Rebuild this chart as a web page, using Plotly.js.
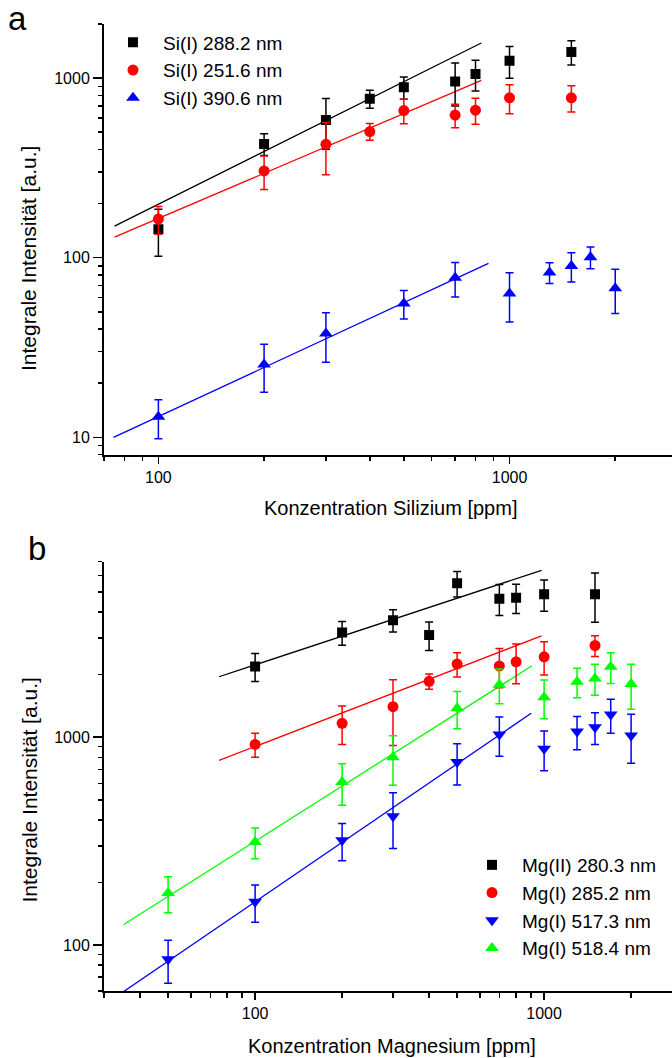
<!DOCTYPE html>
<html><head><meta charset="utf-8">
<script src="https://cdn.plot.ly/plotly-3.0.1.min.js"></script>
<style>html,body{margin:0;padding:0;background:#fff;overflow:hidden}</style>
</head><body><div id="chart" style="width:672px;height:1058px"></div>
<script>
// ---------- Panel a: Silicon ----------
const siX = [100, 200, 300, 400, 500, 700, 800, 1000, 1500];
const si288 = [144, 430, 585, 767, 888, 957, 1053, 1249, 1397];
const si288Err = [42, 59, 184, 88, 125, 258, 205, 250, 215];
const si251 = [164, 304, 428, 504, 659, 622, 663, 776, 776];
const si251Err = [29, 64, 138, 54, 102, 93, 110, 143, 129];
const siX390 = [100, 200, 300, 500, 700, 1000, 1300, 1500, 1700, 2000];
const si390 = [13.0, 25.4, 37.8, 55.6, 77.3, 63.2, 82.8, 89.8, 100.7, 67.5];
const si390Err = [3.2, 7.6, 11.6, 10, 16.8, 19.3, 10.9, 16.7, 14, 18.6];
// fit lines (end points)
const fitSiX = [75, 831];
const fit288 = [150, 1567];
const fit251 = [130, 970];
const fitSiX390 = [74.5, 871];
const fit390 = [10, 92.9];

// ---------- Panel b: Magnesium ----------
const mgX = [100, 200, 300, 400, 500, 700, 800, 1000, 1500];
const mg280 = [2193, 3192, 3661, 3102, 5508, 4645, 4697, 4877, 4877];
const mg280Err = [340, 420, 450, 490, 780, 785, 760, 835, 1300];
const mg285 = [923, 1167, 1403, 1858, 2250, 2203, 2308, 2439, 2765];
const mg285Err = [122, 245, 490, 155, 300, 470, 500, 445, 315];
const mgX5 = [50, 100, 200, 300, 500, 700, 1000, 1300, 1500, 1700, 2000];
const mg517 = [85.3, 161.5, 319, 416, 759, 1030, 880, 1065, 1117, 1285, 1019];
const mg517Err = [20, 33, 65, 125, 170, 220, 190, 195, 195, 240, 270];
const mg518 = [178, 313, 608, 802, 1378, 1791, 1556, 1850, 1919, 2183, 1804];
const mg518Err = [35, 53, 137, 215, 280, 340, 330, 300, 325, 370, 440];
const fitMgX = [75, 980];
const fit280 = [1955, 6364];
const fit285 = [773, 3077];
const fitMgX518 = [35, 907];
const fit518 = [125, 2208];
const fitMgX517 = [35, 902];
const fit517 = [59.5, 1304];

// tick labels
const siXTicks = [100, 1000];
const siYTicks = [10, 100, 1000];
const mgXTicks = [100, 1000];
const mgYTicks = [100, 1000];

const W = 672, H = 1058;
const FONT = 'Liberation Sans, Arial, Helvetica, sans-serif';
const px = v => v / W;
const py = v => (H - v) / H;

const BLACK = '#000000', RED = '#ff0000', BLUE = '#0000ff', GREEN = '#00ff00';

function fit(x, y, color, xa, ya) {
  return {x: x, y: y, type: 'scatter', mode: 'lines', showlegend: false,
    line: {color: color, width: 1.3}, xaxis: xa, yaxis: ya, hoverinfo: 'skip'};
}
function pts(x, y, err, name, color, symbol, size, xa, ya, lg) {
  return {x: x, y: y, type: 'scatter', mode: 'markers', name: name,
    marker: {symbol: symbol, size: size, color: color, line: {width: 0}},
    error_y: {type: 'data', array: err, visible: true, color: color, thickness: 1.5, width: 4},
    xaxis: xa, yaxis: ya, legend: lg};
}

const traces = [
  fit(fitSiX, fit288, BLACK, 'x', 'y'),
  fit(fitSiX, fit251, RED, 'x', 'y'),
  fit(fitSiX390, fit390, BLUE, 'x', 'y'),
  pts(siX, si288, si288Err, 'Si(I) 288.2 nm', BLACK, 'square', 10, 'x', 'y', 'legend'),
  pts(siX, si251, si251Err, 'Si(I) 251.6 nm', RED, 'circle', 11, 'x', 'y', 'legend'),
  pts(siX390, si390, si390Err, 'Si(I) 390.6 nm', BLUE, 'triangle-up', 12, 'x', 'y', 'legend'),

  fit(fitMgX, fit280, BLACK, 'x2', 'y2'),
  fit(fitMgX, fit285, RED, 'x2', 'y2'),
  fit(fitMgX518, fit518, GREEN, 'x2', 'y2'),
  fit(fitMgX517, fit517, BLUE, 'x2', 'y2'),
  pts(mgX, mg280, mg280Err, 'Mg(II) 280.3 nm', BLACK, 'square', 10, 'x2', 'y2', 'legend2'),
  pts(mgX, mg285, mg285Err, 'Mg(I) 285.2 nm', RED, 'circle', 11, 'x2', 'y2', 'legend2'),
  pts(mgX5, mg517, mg517Err, 'Mg(I) 517.3 nm', BLUE, 'triangle-down', 12, 'x2', 'y2', 'legend2'),
  pts(mgX5, mg518, mg518Err, 'Mg(I) 518.4 nm', GREEN, 'triangle-up', 12, 'x2', 'y2', 'legend2')
];

function axis(extra, majorLen) {
  return Object.assign({
    type: 'log', showline: true, linewidth: 2, linecolor: '#000',
    ticks: 'outside', ticklen: majorLen, tickwidth: 1.5, tickcolor: '#000',
    tickmode: 'array', showgrid: false, zeroline: false,
    tickfont: {family: FONT, size: 16, color: '#000'},
    fixedrange: true
  }, extra);
}
function minor(vals) {
  return {tickmode: 'array', tickvals: vals, ticks: 'outside', ticklen: 4.5,
    tickwidth: 1.5, tickcolor: '#000', showgrid: false};
}

const layout = {
  width: W, height: H,
  margin: {l: 0, r: 0, t: 0, b: 0},
  paper_bgcolor: '#fff', plot_bgcolor: '#fff',
  font: {family: FONT, color: '#000'},
  xaxis: axis({domain: [px(104), 1], range: [Math.log10(70), 3.4627], anchor: 'y',
    tickvals: siXTicks, ticktext: siXTicks.map(String),
    minor: minor([70, 80, 90, 200, 300, 400, 500, 600, 700, 800, 900, 2000])}, 7),
  yaxis: axis({domain: [py(454.7), py(24)], range: [Math.log10(8), Math.log10(2000)], anchor: 'x',
    tickvals: siYTicks, ticktext: siYTicks.map(String),
    minor: minor([8, 9, 20, 30, 40, 50, 60, 70, 80, 90, 200, 300, 400, 500, 600, 700, 800, 900, 2000])}, 9),
  xaxis2: axis({domain: [px(104), 1], range: [Math.log10(30), 3.4425], anchor: 'y2',
    tickvals: mgXTicks, ticktext: mgXTicks.map(String),
    minor: minor([30, 40, 50, 60, 70, 80, 90, 200, 300, 400, 500, 600, 700, 800, 900, 2000])}, 7),
  yaxis2: axis({domain: [py(991), py(561.7)], range: [Math.log10(60), Math.log10(7000)], anchor: 'x2',
    tickvals: mgYTicks, ticktext: mgYTicks.map(String),
    minor: minor([60, 70, 80, 90, 200, 300, 400, 500, 600, 700, 800, 900, 2000, 3000, 4000, 5000, 6000, 7000])}, 9),
  legend: {x: px(103), y: py(23.5), xanchor: 'left', yanchor: 'top', xref: 'paper', yref: 'paper',
    bgcolor: 'rgba(0,0,0,0)', borderwidth: 0, itemwidth: 50,
    font: {family: FONT, size: 19, color: '#000'}},
  legend2: {x: px(462), y: py(846), xanchor: 'left', yanchor: 'top', xref: 'paper', yref: 'paper',
    bgcolor: 'rgba(0,0,0,0)', borderwidth: 0, itemwidth: 50,
    font: {family: FONT, size: 19, color: '#000'}},
  annotations: [
    {text: 'a', x: px(6), y: py(19), xref: 'paper', yref: 'paper', xanchor: 'left', yanchor: 'middle',
      showarrow: false, font: {family: FONT, size: 33, color: '#000'}},
    {text: 'b', x: px(26), y: py(548.6), xref: 'paper', yref: 'paper', xanchor: 'left', yanchor: 'middle',
      showarrow: false, font: {family: FONT, size: 33, color: '#000'}},
    {text: 'Konzentration Silizium [ppm]', x: px(390.5), y: py(508), xref: 'paper', yref: 'paper',
      xanchor: 'center', yanchor: 'middle', showarrow: false, font: {family: FONT, size: 20, color: '#000'}},
    {text: 'Konzentration Magnesium [ppm]', x: px(392), y: py(1046), xref: 'paper', yref: 'paper',
      xanchor: 'center', yanchor: 'middle', showarrow: false, font: {family: FONT, size: 20, color: '#000'}},
    {text: 'Integrale Intensität [a.u.]', x: px(28.5), y: py(258.5), xref: 'paper', yref: 'paper',
      xanchor: 'center', yanchor: 'middle', textangle: -90, showarrow: false, font: {family: FONT, size: 21, color: '#000'}},
    {text: 'Integrale Intensität [a.u.]', x: px(28.5), y: py(790), xref: 'paper', yref: 'paper',
      xanchor: 'center', yanchor: 'middle', textangle: -90, showarrow: false, font: {family: FONT, size: 21, color: '#000'}}
  ]
};

Plotly.newPlot('chart', traces, layout, {staticPlot: true, displayModeBar: false});
</script></body></html>
